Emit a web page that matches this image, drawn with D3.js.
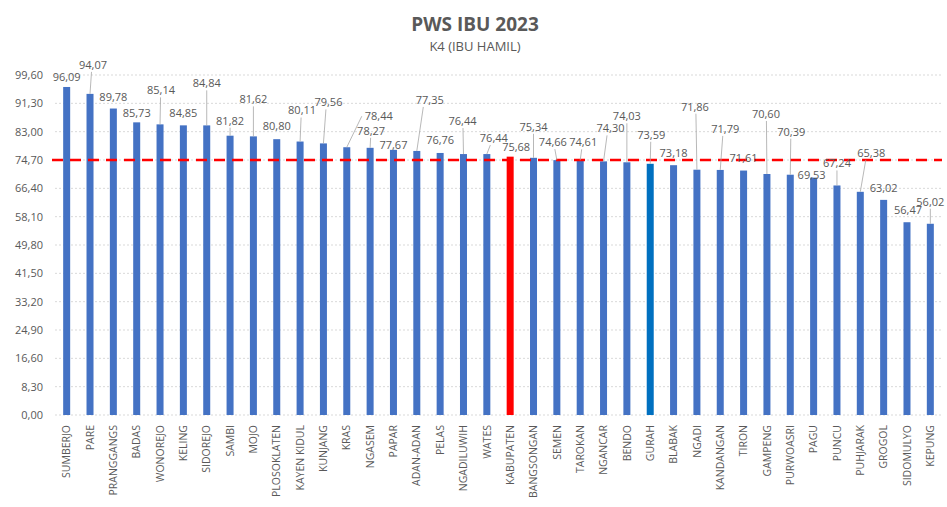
<!DOCTYPE html>
<html>
<head>
<meta charset="utf-8">
<script src="https://cdn.jsdelivr.net/npm/d3@7"></script>
<style>
  body { margin: 0; background: #fff; }
  svg { font-family: 'Open Sans', sans-serif; }
</style>
</head>
<body>
<div id="chart"></div>
<script>
// data
const categories = ['SUMBERJO', 'PARE', 'PRANGGANGS', 'BADAS', 'WONOREJO', 'KELING', 'SIDOREJO', 'SAMBI',
    'MOJO', 'PLOSOKLATEN', 'KAYEN KIDUL', 'KUNJANG', 'KRAS', 'NGASEM', 'PAPAR', 'ADAN-ADAN', 'PELAS',
    'NGADILUWIH', 'WATES', 'KABUPATEN', 'BANGSONGAN', 'SEMEN', 'TAROKAN', 'NGANCAR', 'BENDO', 'GURAH',
    'BLABAK', 'NGADI', 'KANDANGAN', 'TIRON', 'GAMPENG', 'PURWOASRI', 'PAGU', 'PUNCU', 'PUHJARAK',
    'GROGOL', 'SIDOMULYO', 'KEPUNG']
const values = [96.09, 94.07, 89.78, 85.73, 85.14, 84.85, 84.84, 81.82, 81.62, 80.80, 80.11, 79.56, 78.44,
    78.27, 77.67, 77.35, 76.76, 76.44, 76.44, 75.68, 75.34, 74.66, 74.61, 74.30, 74.03, 73.59, 73.18,
    71.86, 71.79, 71.61, 70.60, 70.39, 69.53, 67.24, 65.38, 63.02, 56.47, 56.02]
const target = 74.70
const yTicks = [0, 8.3, 16.6, 24.9, 33.2, 41.5, 49.8, 58.1, 66.4, 74.7, 83.0, 91.3, 99.6]

// label placement (pixels, relative to bar top), as dragged in the original
const labelDx = [0, 3, 0, 0, 1, 0, 0, 0, 0, 0, 2, 5, 32, 1, 0, 13, 0, -1, 7, 6, 0, -4, 3, 7, 0, 1,
    0, -2, 5, 0, -1, 1, -2, 0, 11, 0, 1, 0]
const labelDy = [-10, -29, -11, -9, -34, -12, -42, -15, -37, -13, -31, -41, -31, -17, -5, -51, -13, -33,
    -16, -10, -31, -18, -18, -33, -46, -29, -12, -63, -41, -12, -60, -43, -2, -22, -39, -12, -12, -22]

const width = 947
const height = 507
const margin = { top: 75, right: 5, bottom: 92, left: 55 }
const textColor = '#595959'
const fmt = v => d3.format('.2f')(v).replace('.', ',')

const barColor = d => d === 'KABUPATEN' ? '#FF0000' : d === 'GURAH' ? '#0070C0' : '#4472C4'

const svg = d3.select('#chart')
    .append('svg')
    .attr('width', width)
    .attr('height', height)

const x = d3.scaleBand()
    .domain(categories)
    .range([margin.left, width - margin.right])
    .paddingInner(0.7)
    .paddingOuter(0.35)

const y = d3.scaleLinear()
    .domain([0, 99.6])
    .range([height - margin.bottom, margin.top])

// title
svg.append('text')
    .attr('x', 475)
    .attr('y', 31)
    .attr('text-anchor', 'middle')
    .style('font-size', '19px')
    .style('font-weight', 'bold')
    .style('fill', textColor)
    .text('PWS IBU 2023')

svg.append('text')
    .attr('x', 475)
    .attr('y', 51)
    .attr('text-anchor', 'middle')
    .style('font-size', '13px')
    .style('fill', textColor)
    .text('K4 (IBU HAMIL)')

// gridlines
svg.append('g')
    .selectAll('line')
    .data(yTicks)
    .enter()
    .append('line')
    .attr('x1', margin.left)
    .attr('x2', width - margin.right)
    .attr('y1', d => y(d))
    .attr('y2', d => y(d))
    .style('stroke', '#D9D9D9')
    .style('stroke-width', 1)
    .style('stroke-dasharray', '2,2')

// y axis
const yAxis = svg.append('g')
    .attr('transform', `translate(${margin.left - 10},0)`)
    .call(d3.axisLeft(y).tickValues(yTicks).tickFormat(fmt).tickSize(0).tickPadding(2))
yAxis.select('.domain').remove()
yAxis.selectAll('text')
    .style('font-size', '11px')
    .style('fill', textColor)
    .style('font-family', 'Open Sans, sans-serif')

// x axis
const xAxis = svg.append('g')
    .attr('transform', `translate(0,${height - margin.bottom})`)
    .call(d3.axisBottom(x).tickSize(0))
xAxis.select('.domain').remove()
xAxis.selectAll('text')
    .attr('transform', 'rotate(-90)')
    .attr('x', -10)
    .attr('y', 0)
    .attr('dy', '0.35em')
    .attr('text-anchor', 'end')
    .style('font-size', '10.5px')
    .style('fill', textColor)
    .style('font-family', 'Open Sans, sans-serif')

// bars
svg.append('g')
    .selectAll('rect')
    .data(categories)
    .enter()
    .append('rect')
    .attr('x', d => x(d))
    .attr('width', x.bandwidth())
    .attr('y', (d, i) => y(values[i]))
    .attr('height', (d, i) => y(0) - y(values[i]))
    .style('fill', barColor)

// target line
svg.append('line')
    .attr('x1', margin.left - 3)
    .attr('x2', width - margin.right)
    .attr('y1', y(target))
    .attr('y2', y(target))
    .style('stroke', '#FF0000')
    .style('stroke-width', 2.5)
    .style('stroke-dasharray', '11,7')

// data labels with leader lines
const labels = categories.map((c, i) => {
    const bx = x(c) + x.bandwidth() / 2
    const by = y(values[i])
    return { bx, by, lx: bx + labelDx[i], ly: by + labelDy[i], text: fmt(values[i]) }
})

const halfW = 15
svg.append('g')
    .selectAll('line')
    .data(labels.filter(d => d.by - d.ly > 14))
    .enter()
    .append('line')
    .attr('x1', d => d.bx)
    .attr('y1', d => d.by)
    .attr('x2', d => Math.abs(d.lx - d.bx) > halfW ? d.lx - halfW - 2 : d.bx + (d.lx - d.bx) * 0.5)
    .attr('y2', d => Math.abs(d.lx - d.bx) > halfW ? d.ly : d.ly + 7)
    .style('stroke', '#A6A6A6')
    .style('stroke-width', 0.8)

svg.append('g')
    .selectAll('text')
    .data(labels)
    .enter()
    .append('text')
    .attr('x', d => d.lx)
    .attr('y', d => d.ly)
    .attr('dy', '0.35em')
    .attr('text-anchor', 'middle')
    .style('font-size', '11px')
    .style('fill', textColor)
    .text(d => d.text)
</script>
</body>
</html>
